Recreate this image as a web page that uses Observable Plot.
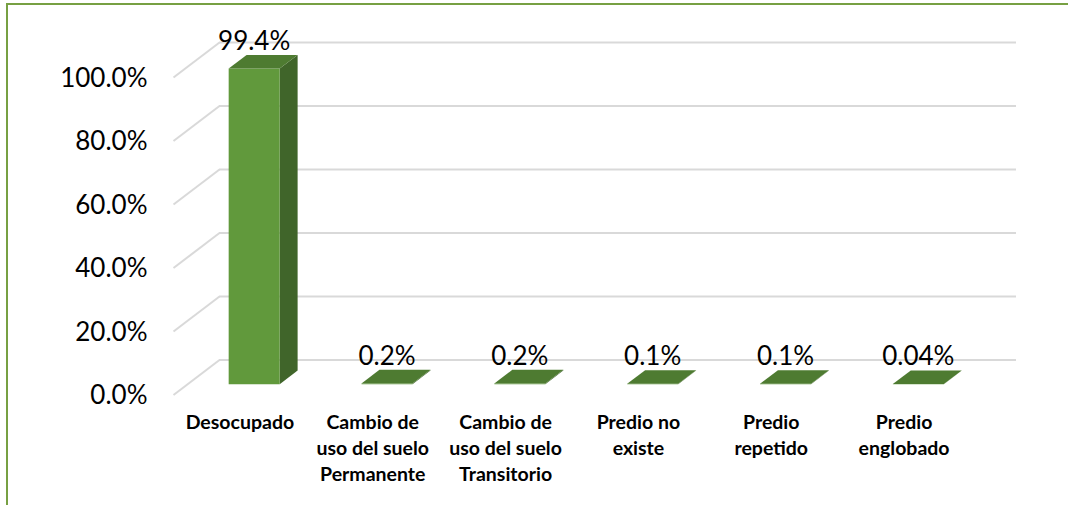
<!DOCTYPE html>
<html>
<head>
<meta charset="utf-8">
<script src="https://cdn.jsdelivr.net/npm/d3@7"></script>
<script src="https://cdn.jsdelivr.net/npm/@observablehq/plot@0.6"></script>
<style>
  html, body { margin: 0; padding: 0; background: #ffffff; }
  #wrap { position: relative; width: 1068px; height: 505px; overflow: hidden; }
  #frame { position: absolute; left: 6px; top: 3px; width: 1200px; height: 700px;
           border-top: 2px solid #77a043; border-left: 2px solid #77a043; pointer-events: none; }
</style>
</head>
<body>
<div id="wrap"><div id="frame"></div><div id="chart"></div></div>
<script>
// ---- data ----
const categories = [
  "Desocupado",
  "Cambio de\nuso del suelo\nPermanente",
  "Cambio de\nuso del suelo\nTransitorio",
  "Predio no\nexiste",
  "Predio\nrepetido",
  "Predio\nenglobado"
];
const values = [99.4, 0.2, 0.2, 0.1, 0.1, 0.04];
const valueLabels = ["99.4%", "0.2%", "0.2%", "0.1%", "0.1%", "0.04%"];
const yTicks = [0, 20, 40, 60, 80, 100];
const yTickLabels = ["0.0%", "20.0%", "40.0%", "60.0%", "80.0%", "100.0%"];

// ---- 3D oblique projection settings (in data units) ----
const DX = 0.3463;   // x shift for full depth
const DY = 11.02;    // y shift (percentage units) for full depth
const Z0 = 0.31, Z1 = 0.70;  // bar depth extent
const HALF = 0.192;  // half bar width (band units)

const P = (x, y, z) => ({x: x + z * DX, y: y + z * DY});

const sides = [], tops = [], fronts = [];
categories.forEach((c, i) => {
  const v = values[i];
  const xl = i + 0.5 - HALF, xr = i + 0.5 + HALF;
  [P(xl, 0, Z0), P(xr, 0, Z0), P(xr, v, Z0), P(xl, v, Z0)].forEach(p => fronts.push({...p, id: i}));
  [P(xr, 0, Z0), P(xr, v, Z0), P(xr, v, Z1), P(xr, 0, Z1)].forEach(p => sides.push({...p, id: i}));
  [P(xl, v, Z0), P(xr, v, Z0), P(xr, v, Z1), P(xl, v, Z1)].forEach(p => tops.push({...p, id: i}));
});

const idx = categories.map((_, i) => i);

const chart = Plot.plot({
  width: 1068,
  height: 505,
  marginLeft: 173,
  marginRight: 98,
  marginTop: 77,
  marginBottom: 110.5,
  style: {fontFamily: "Lato, 'Liberation Sans', sans-serif", background: "transparent", overflow: "visible"},
  x: {type: "linear", domain: [0, categories.length], axis: null},
  y: {type: "linear", domain: [0, 100], axis: null},
  marks: [
    // back wall gridlines
    Plot.ruleY(yTicks, {y: d => d + DY, x1: DX, x2: categories.length + DX, stroke: "#d9d9d9", strokeWidth: 2}),
    // side-wall diagonals
    Plot.link(yTicks, {x1: 0, y1: d => d, x2: DX, y2: d => d + DY, stroke: "#d9d9d9", strokeWidth: 2}),
    // bars
    Plot.line(sides, {x: "x", y: "y", z: "id", fill: "#40652a", stroke: "none"}),
    Plot.line(fronts, {x: "x", y: "y", z: "id", fill: "#61993c", stroke: "none"}),
    Plot.line(tops, {x: "x", y: "y", z: "id", fill: "#4e7b31", stroke: "none"}),
    // value labels
    Plot.text(idx, {
      x: i => i + 0.5 + Z0 * DX, y: i => values[i] + Z1 * DY,
      text: i => valueLabels[i], lineAnchor: "bottom", dy: -5,
      fontSize: 26, fill: "#000"
    }),
    // y tick labels
    Plot.text(yTicks, {
      x: 0, y: d => d, text: (d, i) => yTickLabels[i],
      textAnchor: "end", dx: -26, dy: 1, fontSize: 26, fill: "#000"
    }),
    // category labels
    Plot.text(idx, {
      x: i => i + 0.5, y: 0, text: i => categories[i],
      lineAnchor: "top", dy: 15, lineHeight: 1.35,
      fontSize: 19.5, fontWeight: "bold", fill: "#000"
    })
  ]
});
document.getElementById("chart").appendChild(chart);
</script>
</body>
</html>
